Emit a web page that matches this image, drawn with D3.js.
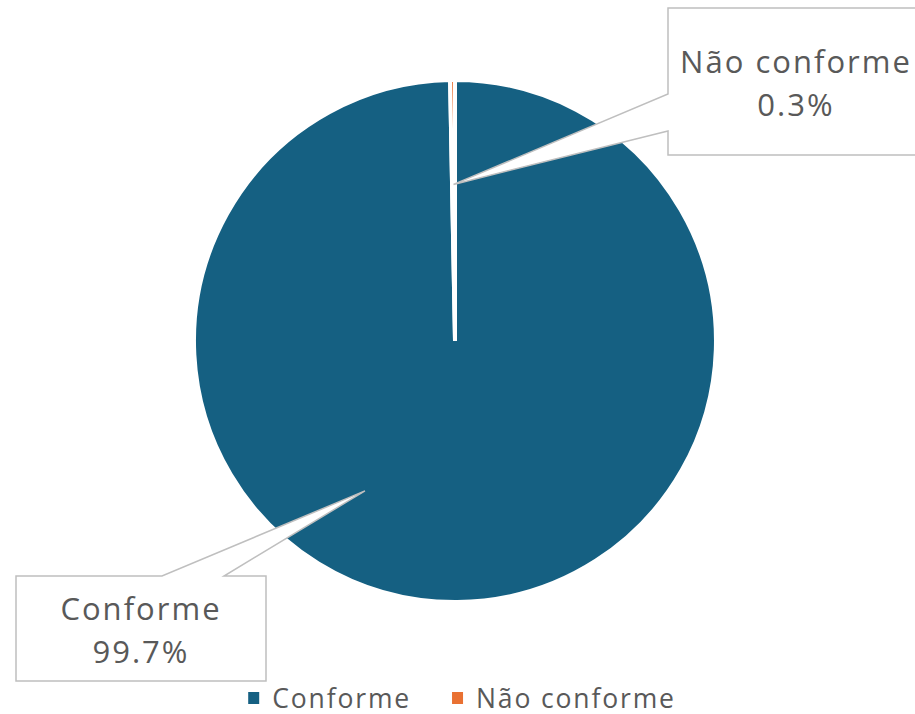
<!DOCTYPE html>
<html>
<head>
<meta charset="utf-8">
<script src="https://cdn.jsdelivr.net/npm/d3@7"></script>
<style>
    body { margin: 0; background: #fff; }
    svg { display: block; font-family: "Open Sans", sans-serif; font-weight: 500; }
</style>
</head>
<body>
<div id="chart"></div>
<script>
var categories = ["Conforme", "Não conforme"]
var values = [99.7, 0.3]
var colors = ["#156082", "#E97132"]

var width = 915, height = 714
var cx = 455, cy = 341, radius = 261
var textColor = "#595959"

// callout boxes (x0, y0, x1, y1) and where the pointer leaves the box
var callouts = [
    { box: [16, 576, 266, 681], side: "top", base: [162, 224], tipAngle: 211, tipR: 0.67 },
    { box: [668, 8, 925, 155], side: "left", base: [94, 131], tipAngle: null, tipR: 0.6 }
]

var svg = d3.select("#chart").append("svg")
    .attr("width", width)
    .attr("height", height)

var pie = d3.pie().sort(null).value(function (d) { return d })
var arcs = pie(values)
var arc = d3.arc().innerRadius(0).outerRadius(radius)

var g = svg.append("g").attr("transform", "translate(" + cx + "," + cy + ")")

g.selectAll("path.slice")
    .data(arcs)
    .enter()
    .append("path")
    .attr("class", "slice")
    .attr("d", arc)
    .attr("fill", function (d, i) { return colors[i] })
    .attr("stroke", "#fff")
    .attr("stroke-width", 4)

// data labels as callouts
arcs.forEach(function (d, i) {
    var c = callouts[i]
    var a = c.tipAngle !== null ? c.tipAngle * Math.PI / 180 : (d.startAngle + d.endAngle) / 2
    var tx = cx + radius * c.tipR * Math.sin(a)
    var ty = cy - radius * c.tipR * Math.cos(a)
    var x0 = c.box[0], y0 = c.box[1], x1 = c.box[2], y1 = c.box[3]
    var p = d3.path()
    if (c.side === "top") {
        p.moveTo(x0, y0)
        p.lineTo(c.base[0], y0)
        p.lineTo(tx, ty)
        p.lineTo(c.base[1], y0)
        p.lineTo(x1, y0)
        p.lineTo(x1, y1)
        p.lineTo(x0, y1)
    } else {
        p.moveTo(x0, y0)
        p.lineTo(x1, y0)
        p.lineTo(x1, y1)
        p.lineTo(x0, y1)
        p.lineTo(x0, c.base[1])
        p.lineTo(tx, ty)
        p.lineTo(x0, c.base[0])
    }
    p.closePath()
    svg.append("path")
        .attr("d", p.toString())
        .attr("fill", "#fff")
        .attr("stroke", "#bfbfbf")
        .attr("stroke-width", 1.5)

    // the right box runs past the edge, text sits at its middle
    var mx = c.side === "left" ? x0 + 128 : (x0 + x1) / 2
    var my = (y0 + y1) / 2
    var t = svg.append("text")
        .attr("text-anchor", "middle")
        .attr("fill", textColor)
        .style("font-size", "31px")
        .style("letter-spacing", "0.065em")
    t.append("tspan").attr("x", mx).attr("y", my - 8.5).text(categories[i])
    t.append("tspan").attr("x", mx).attr("y", my + 34.5).text(d3.format(".1f")(values[i]) + "%")
})

// legend
var legend = svg.append("g")
var lx = 0
categories.forEach(function (name, i) {
    var item = legend.append("g").attr("transform", "translate(" + lx + ",0)")
    item.append("rect")
        .attr("x", 0).attr("y", -16)
        .attr("width", 11).attr("height", 12)
        .attr("fill", colors[i])
    var txt = item.append("text")
        .attr("x", 24).attr("y", 0)
        .attr("fill", textColor)
        .style("font-size", "26.5px")
        .style("letter-spacing", "0.07em")
        .text(name)
    lx += 24 + txt.node().getComputedTextLength() + 41
})
var legendWidth = legend.node().getBBox().width
legend.attr("transform", "translate(" + (462 - legendWidth / 2) + ",708)")
</script>
</body>
</html>
